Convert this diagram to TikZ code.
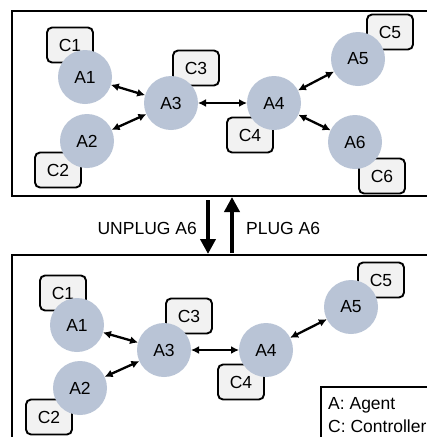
\documentclass[tikz,border=0pt]{standalone}
\usepackage{fontspec}
\setmainfont{Liberation Sans}
\usetikzlibrary{arrows.meta}
\definecolor{agentfill}{HTML}{B9C4D6}
\definecolor{ctrlfill}{HTML}{F2F2F2}
\tikzset{
  txt/.style={font=\fontsize{17.5}{20}\selectfont},
  agent/.style={txt, circle, fill=agentfill, minimum size=54pt, inner sep=0pt, outer sep=0pt},
  ctrl/.style={txt, draw, line width=1.9pt, rounded corners=5pt, fill=ctrlfill, minimum width=46pt, minimum height=35pt, inner sep=0pt},
  link/.style={line width=2.3pt, {Latex[length=8pt,width=8pt]}-{Latex[length=8pt,width=8pt]}},
  panel/.style={line width=2.2pt},
  switch/.style={line width=4.5pt, -{Triangle[length=15pt,width=15pt]}},
  lbl/.style={txt, inner sep=0pt}
}
\begin{document}
\begin{tikzpicture}[x=1pt,y=-1pt]
\useasboundingbox (0,0) rectangle (427,437);
\fill[white] (0,0) rectangle (427,437);

% panel frames (they run on past the right edge)
\draw[panel] (427,11) -- (12,11) -- (12,196) -- (427,196);
\draw[panel] (427,255) -- (12,255) -- (12,437);

% ---- top panel: all six agents ----
\node[ctrl] (tC1) at (70,45) {C1};
\node[ctrl] (tC2) at (58,170) {C2};
\node[ctrl] (tC3) at (196,68) {C3};
\node[ctrl] (tC4) at (250,135) {C4};
\node[ctrl] (tC5) at (390,32) {C5};
\node[ctrl] (tC6) at (382,176) {C6};

\node[agent] (tA1) at (85,77) {A1};
\node[agent] (tA2) at (87,141) {A2};
\node[agent] (tA3) at (171,103) {A3};
\node[agent] (tA4) at (274,103) {A4};
\node[agent] (tA5) at (358,59) {A5};
\node[agent] (tA6) at (355,142) {A6};

\draw[link] (tA1) -- (tA3);
\draw[link] (tA2) -- (tA3);
\draw[link] (tA3) -- (tA4);
\draw[link] (tA4) -- (tA5);
\draw[link] (tA4) -- (tA6);

% ---- transition between the two states ----
\coordinate (dnS) at (208,200);
\coordinate (dnE) at (208,254);
\coordinate (upS) at (232,253);
\coordinate (upE) at (232,197);
\draw[switch] (dnS) -- (dnE);
\draw[switch] (upS) -- (upE);
\node[lbl, anchor=east] (unplug) at (197,228) {UNPLUG A6};
\node[lbl, anchor=west] (plug) at (246,228) {PLUG A6};

% ---- bottom panel: A6 removed ----
\node[ctrl] (bC1) at (63,293) {C1};
\node[ctrl] (bC2) at (49,417) {C2};
\node[ctrl] (bC3) at (189,316) {C3};
\node[ctrl] (bC4) at (241,382) {C4};
\node[ctrl] (bC5) at (381,280) {C5};

\node[agent] (bA1) at (77,325) {A1};
\node[agent] (bA2) at (80,388) {A2};
\node[agent] (bA3) at (164,350) {A3};
\node[agent] (bA4) at (266,350) {A4};
\node[agent] (bA5) at (351,307) {A5};

\draw[link] (bA1) -- (bA3);
\draw[link] (bA2) -- (bA3);
\draw[link] (bA3) -- (bA4);
\draw[link] (bA4) -- (bA5);

% legend
\draw[panel] (427,387) -- (321,387) -- (321,437);
\node[lbl, anchor=west] (legA) at (328,405) {A: Agent};
\node[lbl, anchor=west] (legC) at (328,426) {C: Controller};
\end{tikzpicture}
\end{document}
